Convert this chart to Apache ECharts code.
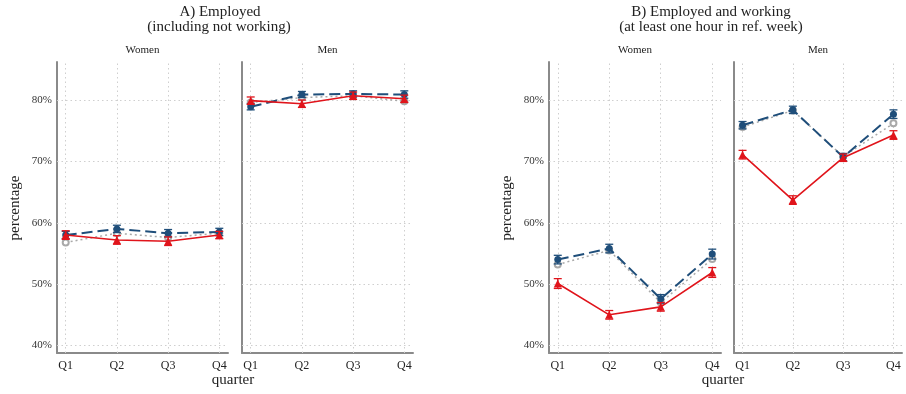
<!DOCTYPE html>
<html><head><meta charset="utf-8">
<script src="https://cdn.jsdelivr.net/npm/echarts@6/dist/echarts.min.js"></script>
<style>html,body{margin:0;padding:0;background:#fff}#c{width:906px;height:394px}</style>
</head><body><div id="c"></div>
<script>
const quarters = ['Q1', 'Q2', 'Q3', 'Q4'];
const yTicks = [40, 50, 60, 70, 80];

// Panel A: Employed (including not working)
const aWomenBlue = [58.0, 59.0, 58.3, 58.5];
const aWomenBlueErr = [0.6, 0.6, 0.6, 0.6];
const aWomenRed = [58.0, 57.2, 57.0, 58.0];
const aWomenRedErr = [0.7, 0.7, 0.7, 0.6];
const aWomenGray = [56.8, 58.3, 57.6, 58.3];

const aMenBlue = [78.9, 80.9, 81.0, 80.9];
const aMenBlueErr = [0.5, 0.5, 0.5, 0.6];
const aMenRed = [79.9, 79.4, 80.7, 80.2];
const aMenRedErr = [0.6, 0.6, 0.6, 0.6];
const aMenGray = [79.6, 80.4, 80.7, 79.8];

// Panel B: Employed and working
const bWomenBlue = [54.0, 55.8, 47.6, 54.9];
const bWomenBlueErr = [0.7, 0.7, 0.7, 0.8];
const bWomenRed = [50.1, 45.0, 46.3, 51.9];
const bWomenRedErr = [0.8, 0.7, 0.7, 0.8];
const bWomenGray = [53.2, 55.5, 47.0, 54.1];

const bMenBlue = [75.9, 78.4, 70.7, 77.7];
const bMenBlueErr = [0.6, 0.6, 0.6, 0.7];
const bMenRed = [71.1, 63.7, 70.6, 74.3];
const bMenRedErr = [0.7, 0.7, 0.6, 0.7];
const bMenGray = [75.6, 78.3, 70.8, 76.2];

const BLUE = '#1f4e7a', RED = '#e0141b', GRAY = '#a9a9a9';
const SERIF = '"Liberation Serif", "DejaVu Serif", serif';

const panels = [
  {left: 57, width: 171, blue: aWomenBlue, be: aWomenBlueErr, red: aWomenRed, re: aWomenRedErr, gray: aWomenGray, labels: true},
  {left: 242, width: 171, blue: aMenBlue, be: aMenBlueErr, red: aMenRed, re: aMenRedErr, gray: aMenGray, labels: false},
  {left: 549, width: 172, blue: bWomenBlue, be: bWomenBlueErr, red: bWomenRed, re: bWomenRedErr, gray: bWomenGray, labels: true},
  {left: 734, width: 168, blue: bMenBlue, be: bMenBlueErr, red: bMenRed, re: bMenRedErr, gray: bMenGray, labels: false}
];

function errItem(color) {
  return function (params, api) {
    const x = api.value(0), lo = api.value(1), hi = api.value(2);
    const p1 = api.coord([x, lo]), p2 = api.coord([x, hi]);
    const w = 4;
    const st = {stroke: color, lineWidth: 1.3};
    return {type: 'group', children: [
      {type: 'line', shape: {x1: p1[0], y1: p1[1], x2: p2[0], y2: p2[1]}, style: st},
      {type: 'line', shape: {x1: p1[0] - w, y1: p1[1], x2: p1[0] + w, y2: p1[1]}, style: st},
      {type: 'line', shape: {x1: p2[0] - w, y1: p2[1], x2: p2[0] + w, y2: p2[1]}, style: st}
    ]};
  };
}
const pts = arr => arr.map((v, i) => [i + 1, v]);
const errs = (arr, e) => arr.map((v, i) => [i + 1, v - e[i], v + e[i]]);

const grid = [], xAxis = [], yAxis = [], series = [];
panels.forEach((p, k) => {
  grid.push({left: p.left, width: p.width, top: 62, height: 291});
  xAxis.push({
    type: 'value', gridIndex: k, min: 0.83, max: 4.17,
    axisLine: {show: true, lineStyle: {color: '#8a8a8a', width: 2}},
    axisTick: {show: false}, splitLine: {show: false},
    axisLabel: {customValues: [1, 2, 3, 4], formatter: v => quarters[Math.round(v) - 1],
      color: '#222', fontFamily: SERIF, fontSize: 12, margin: 7}
  });
  yAxis.push({
    type: 'value', gridIndex: k, min: 38.78, max: 86.2,
    axisLine: {show: true, lineStyle: {color: '#8a8a8a', width: 2}},
    axisTick: {show: false}, splitLine: {show: false},
    axisLabel: {show: p.labels, customValues: yTicks, formatter: '{value}%',
      color: '#333', fontFamily: SERIF, fontSize: 11, margin: 5}
  });
  const gridLines = [];
  [1, 2, 3, 4].forEach(v => gridLines.push({xAxis: v}));
  yTicks.forEach(v => gridLines.push({yAxis: v}));
  series.push({
    type: 'line', xAxisIndex: k, yAxisIndex: k, data: pts(p.gray), z: 2,
    symbol: 'emptyCircle', symbolSize: 6, showSymbol: true,
    lineStyle: {color: GRAY, width: 1.5, type: [2, 3]}, itemStyle: {color: GRAY, borderWidth: 1.2},
    markLine: {silent: true, symbol: 'none', label: {show: false}, z: 1,
      lineStyle: {color: '#cfcfcf', width: 1, type: [1.5, 3]}, data: gridLines}
  });
  series.push({
    type: 'line', xAxisIndex: k, yAxisIndex: k, data: pts(p.blue), z: 3,
    symbol: 'circle', symbolSize: 7,
    lineStyle: {color: BLUE, width: 2, type: [11, 5]}, itemStyle: {color: BLUE}
  });
  series.push({
    type: 'custom', xAxisIndex: k, yAxisIndex: k, data: errs(p.blue, p.be), z: 3,
    renderItem: errItem(BLUE), encode: {x: 0, y: [1, 2]}
  });
  series.push({
    type: 'line', xAxisIndex: k, yAxisIndex: k, data: pts(p.red), z: 4,
    symbol: 'triangle', symbolSize: 8,
    lineStyle: {color: RED, width: 1.6}, itemStyle: {color: RED}
  });
  series.push({
    type: 'custom', xAxisIndex: k, yAxisIndex: k, data: errs(p.red, p.re), z: 4,
    renderItem: errItem(RED), encode: {x: 0, y: [1, 2]}
  });
});

const txt = (x, y, text, size, extra) => Object.assign({
  type: 'text', x: x, y: y,
  style: {text: text, fontFamily: SERIF, fontSize: size, fill: '#222', align: 'center', verticalAlign: 'middle'}
}, extra || {});

const graphic = [
  txt(220, 12, 'A) Employed', 15),
  txt(219, 27, '(including not working)', 15),
  txt(711, 12, 'B) Employed and working', 15),
  txt(711, 27, '(at least one hour in ref. week)', 15),
  txt(142.5, 50, 'Women', 11),
  txt(327.5, 50, 'Men', 11),
  txt(635, 50, 'Women', 11),
  txt(818, 50, 'Men', 11),
  txt(233, 380, 'quarter', 15),
  txt(723, 380, 'quarter', 15),
  txt(15, 208, 'percentage', 15, {rotation: Math.PI / 2}),
  txt(507, 208, 'percentage', 15, {rotation: Math.PI / 2})
];

const chart = echarts.init(document.getElementById('c'), null, {renderer: 'canvas'});
chart.setOption({animation: false, backgroundColor: '#fff', grid, xAxis, yAxis, series, graphic});
</script>
</body></html>
